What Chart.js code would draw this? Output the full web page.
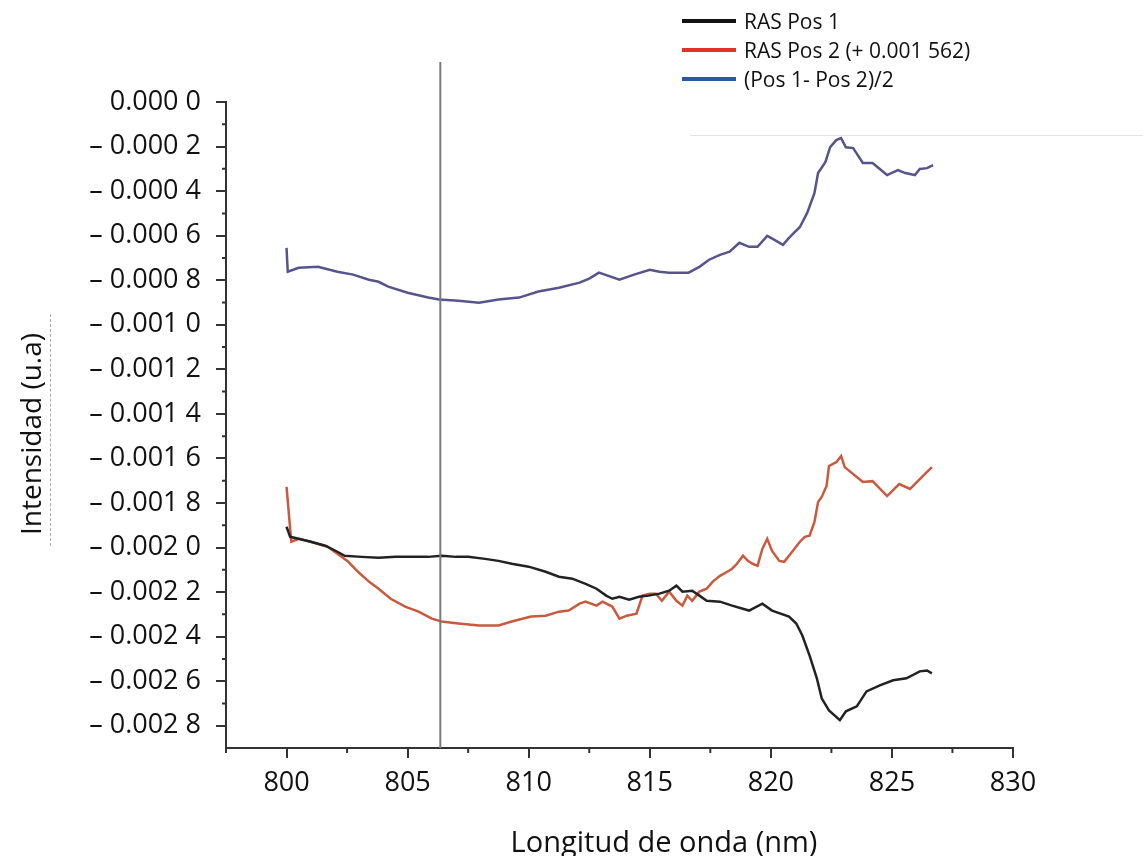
<!DOCTYPE html>
<html>
<head>
<meta charset="utf-8">
<script src="https://cdn.jsdelivr.net/npm/chart.js@4.4.1/dist/chart.umd.min.js"></script>
<style>
  html, body { margin: 0; padding: 0; background: #fff; }
  #wrap { position: relative; width: 1143px; height: 856px; font-family: 'Open Sans', sans-serif; color: #111; }
  #chart { position: absolute; left: 0; top: 0; }
  .ttl { position: absolute; white-space: nowrap; transform: translate(-50%, -50%); }
  #ytitle { left: 30px; top: 434px; font-size: 28px; transform: translate(-50%, -50%) rotate(-90deg); }
  #xtitle { left: 664px; top: 840px; font-size: 29px; }
  #ydash { position: absolute; left: 50px; top: 314px; height: 232px; border-left: 1px dashed #aaa; }
  #legbox { position: absolute; left: 690px; top: 135px; width: 453px; border-top: 1px solid #e3e3e3; }
  .leg { position: absolute; left: 682px; height: 29px; display: flex; align-items: center; font-size: 21px; white-space: nowrap; }
  .leg span { display: inline-block; width: 54px; height: 4px; margin-right: 8px; }
</style>
</head>
<body>
<div id="wrap">
  <canvas id="chart" width="1143" height="856"></canvas>
  <div id="ydash"></div>
  <div id="legbox"></div>
  <div class="ttl" id="ytitle">Intensidad (u.a)</div>
  <div class="ttl" id="xtitle">Longitud de onda (nm)</div>
  <div class="leg" style="top:6px"><span style="background:#111"></span>RAS Pos 1</div>
  <div class="leg" style="top:35px"><span style="background:#e8302a"></span>RAS Pos 2 (+ 0.001 562)</div>
  <div class="leg" style="top:64px"><span style="background:#2856a8"></span>(Pos 1- Pos 2)/2</div>
</div>
<script>
// values (nm / u.a.)
const pos1X = [800.0, 800.15, 800.5, 801.0, 801.6, 802.1, 802.4, 803.1, 803.8, 804.5, 805.15, 805.85, 806.4, 807.0, 807.5, 808.2, 808.75, 809.3, 810.0, 810.7, 811.25, 811.8, 812.35, 812.8, 813.2, 813.45, 813.75, 814.15, 814.55, 814.95, 815.4, 815.8, 816.1, 816.35, 816.75, 817.05, 817.35, 817.9, 818.4, 819.1, 819.65, 820.05, 820.75, 821.05, 821.3, 821.6, 821.9, 822.1, 822.4, 822.85, 823.1, 823.55, 823.95, 824.5, 825.05, 825.6, 826.15, 826.45, 826.65];
const pos1Y = [-19.07e-4, -19.52e-4, -19.61e-4, -19.74e-4, -19.92e-4, -20.19e-4, -20.37e-4, -20.42e-4, -20.46e-4, -20.42e-4, -20.42e-4, -20.42e-4, -20.37e-4, -20.42e-4, -20.42e-4, -20.51e-4, -20.60e-4, -20.73e-4, -20.86e-4, -21.09e-4, -21.31e-4, -21.40e-4, -21.63e-4, -21.85e-4, -22.16e-4, -22.30e-4, -22.21e-4, -22.34e-4, -22.21e-4, -22.16e-4, -22.07e-4, -21.94e-4, -21.71e-4, -21.98e-4, -21.94e-4, -22.16e-4, -22.39e-4, -22.43e-4, -22.61e-4, -22.83e-4, -22.52e-4, -22.83e-4, -23.10e-4, -23.41e-4, -23.95e-4, -24.85e-4, -25.87e-4, -26.77e-4, -27.31e-4, -27.75e-4, -27.35e-4, -27.13e-4, -26.46e-4, -26.19e-4, -25.96e-4, -25.87e-4, -25.56e-4, -25.52e-4, -25.65e-4];

const pos2X = [800.0, 800.15, 800.2, 800.5, 801.0, 801.7, 802.1, 802.55, 802.95, 803.4, 803.8, 804.3, 804.9, 805.45, 806.0, 806.4, 807.1, 807.95, 808.75, 809.3, 810.1, 810.7, 811.25, 811.65, 812.1, 812.35, 812.8, 813.05, 813.45, 813.75, 814.05, 814.45, 814.7, 815.0, 815.25, 815.5, 815.8, 816.1, 816.35, 816.55, 816.75, 817.05, 817.35, 817.6, 817.9, 818.2, 818.4, 818.6, 818.85, 819.05, 819.25, 819.45, 819.65, 819.85, 820.05, 820.35, 820.55, 820.75, 821.2, 821.4, 821.6, 821.8, 821.95, 822.1, 822.3, 822.4, 822.7, 822.9, 823.05, 823.15, 823.8, 824.2, 824.8, 825.3, 825.75, 826.15, 826.65];
const pos2Y = [-17.28e-4, -19.16e-4, -19.74e-4, -19.61e-4, -19.74e-4, -19.97e-4, -20.28e-4, -20.64e-4, -21.09e-4, -21.53e-4, -21.85e-4, -22.30e-4, -22.65e-4, -22.88e-4, -23.19e-4, -23.32e-4, -23.41e-4, -23.50e-4, -23.50e-4, -23.32e-4, -23.10e-4, -23.06e-4, -22.88e-4, -22.83e-4, -22.52e-4, -22.43e-4, -22.61e-4, -22.43e-4, -22.65e-4, -23.19e-4, -23.06e-4, -22.97e-4, -22.16e-4, -22.07e-4, -22.07e-4, -22.39e-4, -21.98e-4, -22.39e-4, -22.61e-4, -22.16e-4, -22.39e-4, -21.98e-4, -21.85e-4, -21.53e-4, -21.27e-4, -21.09e-4, -20.95e-4, -20.73e-4, -20.37e-4, -20.60e-4, -20.73e-4, -20.82e-4, -20.06e-4, -19.61e-4, -20.15e-4, -20.60e-4, -20.64e-4, -20.37e-4, -19.74e-4, -19.52e-4, -19.47e-4, -18.85e-4, -17.96e-4, -17.73e-4, -17.24e-4, -16.34e-4, -16.17e-4, -15.90e-4, -16.39e-4, -16.48e-4, -17.06e-4, -17.02e-4, -17.69e-4, -17.15e-4, -17.37e-4, -16.93e-4, -16.39e-4];

const diffX = [800.0, 800.05, 800.5, 801.3, 802.1, 802.75, 803.4, 803.8, 804.2, 805.0, 805.85, 806.3, 807.1, 807.95, 808.75, 809.6, 810.4, 811.25, 812.1, 812.5, 812.9, 813.75, 814.35, 815.0, 815.4, 815.8, 816.6, 817.05, 817.45, 817.9, 818.3, 818.7, 819.1, 819.45, 819.85, 820.15, 820.5, 820.75, 821.2, 821.5, 821.8, 821.95, 822.25, 822.45, 822.7, 822.9, 823.1, 823.4, 823.8, 824.2, 824.8, 825.25, 825.55, 825.95, 826.15, 826.45, 826.7];
const diffY = [-6.55e-4, -7.62e-4, -7.44e-4, -7.40e-4, -7.62e-4, -7.75e-4, -7.98e-4, -8.07e-4, -8.29e-4, -8.56e-4, -8.78e-4, -8.87e-4, -8.92e-4, -9.01e-4, -8.87e-4, -8.78e-4, -8.51e-4, -8.34e-4, -8.11e-4, -7.93e-4, -7.66e-4, -7.98e-4, -7.75e-4, -7.53e-4, -7.62e-4, -7.66e-4, -7.66e-4, -7.40e-4, -7.08e-4, -6.86e-4, -6.72e-4, -6.32e-4, -6.50e-4, -6.50e-4, -6.01e-4, -6.19e-4, -6.41e-4, -6.10e-4, -5.61e-4, -4.98e-4, -4.09e-4, -3.19e-4, -2.70e-4, -2.03e-4, -1.71e-4, -1.62e-4, -2.03e-4, -2.07e-4, -2.74e-4, -2.74e-4, -3.28e-4, -3.06e-4, -3.19e-4, -3.28e-4, -3.01e-4, -2.97e-4, -2.83e-4];

// vertical reference line (nm)
const markerX = 806.35;

// axes
const xTickValues = [800, 805, 810, 815, 820, 825, 830];
const xTickLabels = ['800', '805', '810', '815', '820', '825', '830'];
const xMinorTicks = [797.5, 802.5, 807.5, 812.5, 817.5, 822.5, 827.5];
const yTickValues = [0, -0.0002, -0.0004, -0.0006, -0.0008, -0.0010, -0.0012, -0.0014, -0.0016, -0.0018, -0.0020, -0.0022, -0.0024, -0.0026, -0.0028];
const yTickLabels = ['0.000 0', '– 0.000 2', '– 0.000 4', '– 0.000 6', '– 0.000 8', '– 0.001 0', '– 0.001 2', '– 0.001 4', '– 0.001 6', '– 0.001 8', '– 0.002 0', '– 0.002 2', '– 0.002 4', '– 0.002 6', '– 0.002 8'];
const yMinorTicks = [-0.0001, -0.0003, -0.0005, -0.0007, -0.0009, -0.0011, -0.0013, -0.0015, -0.0017, -0.0019, -0.0021, -0.0023, -0.0025, -0.0027];

const zip = (xs, ys) => xs.map((x, i) => ({ x, y: ys[i] }));
const pick = (vals, labels, v) => labels[vals.findIndex(t => Math.abs(t - v) < 1e-9)] || '';

const extras = {
  id: 'extras',
  afterDatasetsDraw(chart) {
    const { ctx, chartArea, scales: { x, y } } = chart;
    ctx.save();
    ctx.strokeStyle = '#333';
    ctx.lineWidth = 2;
    ctx.beginPath();
    xMinorTicks.forEach(v => {
      const px = x.getPixelForValue(v);
      ctx.moveTo(px, x.top); ctx.lineTo(px, x.top + 5);
    });
    yMinorTicks.forEach(v => {
      const py = y.getPixelForValue(v);
      ctx.moveTo(y.right - 4, py); ctx.lineTo(y.right, py);
    });
    ctx.stroke();
    // reference line, runs above the plot top
    const mx = x.getPixelForValue(markerX);
    ctx.strokeStyle = '#7a7a7a';
    ctx.lineWidth = 2;
    ctx.beginPath();
    ctx.moveTo(mx, chartArea.top - 40);
    ctx.lineTo(mx, chartArea.bottom);
    ctx.stroke();
    ctx.restore();
  }
};

const tickFont = { family: 'Open Sans', size: 27 };
const lineOpts = { borderWidth: 2.5, showLine: true, pointRadius: 0, tension: 0 };

new Chart(document.getElementById('chart'), {
  type: 'scatter',
  data: {
    datasets: [
      { label: 'RAS Pos 1', data: zip(pos1X, pos1Y), borderColor: '#222', ...lineOpts },
      { label: 'RAS Pos 2 (+ 0.001 562)', data: zip(pos2X, pos2Y), borderColor: '#c95a3e', ...lineOpts },
      { label: '(Pos 1- Pos 2)/2', data: zip(diffX, diffY), borderColor: '#55558c', ...lineOpts }
    ]
  },
  options: {
    responsive: false,
    animation: false,
    layout: { padding: { top: 102, right: 130, left: 0, bottom: 0 } },
    plugins: { legend: { display: false }, tooltip: { enabled: false } },
    scales: {
      x: {
        type: 'linear', min: 797.5, max: 830,
        afterBuildTicks: (s) => { s.ticks = xTickValues.map(v => ({ value: v })); },
        afterFit: (s) => { s.height = 108; },
        ticks: { color: '#111', font: tickFont, padding: 9, maxRotation: 0, autoSkip: false,
          callback: (v) => pick(xTickValues, xTickLabels, v) },
        grid: { drawOnChartArea: false, drawTicks: true, tickLength: 10, color: '#333', lineWidth: 2 },
        border: { display: true, color: '#333', width: 2 }
      },
      y: {
        type: 'linear', min: -0.0029, max: 0,
        afterBuildTicks: (s) => { s.ticks = yTickValues.slice().reverse().map(v => ({ value: v })); },
        afterFit: (s) => { s.width = 226; },
        ticks: { color: '#111', font: tickFont, padding: 15, autoSkip: false,
          callback: (v) => pick(yTickValues, yTickLabels, v) },
        grid: { drawOnChartArea: false, drawTicks: true, tickLength: 10, color: '#333', lineWidth: 2 },
        border: { display: true, color: '#333', width: 2 }
      }
    }
  },
  plugins: [extras]
});
</script>
</body>
</html>
